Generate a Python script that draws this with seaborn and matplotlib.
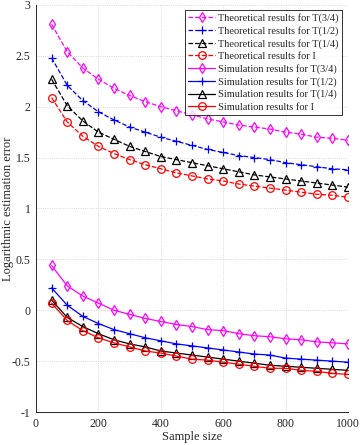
import matplotlib
matplotlib.use("Agg")
import matplotlib.pyplot as plt
import seaborn as sns
import pandas as pd

# ---------------------------------------------------------------
# Data
# ---------------------------------------------------------------
sample_size = [50, 100, 150, 200, 250, 300, 350, 400, 450, 500,
               550, 600, 650, 700, 750, 800, 850, 900, 950, 1000]

theo_t34 = [2.81, 2.54, 2.38, 2.27, 2.18, 2.11, 2.05, 2.00, 1.96, 1.92,
            1.88, 1.85, 1.82, 1.80, 1.78, 1.75, 1.73, 1.70, 1.69, 1.67]
theo_t12 = [2.48, 2.21, 2.06, 1.95, 1.87, 1.80, 1.75, 1.70, 1.66, 1.62,
            1.58, 1.55, 1.52, 1.50, 1.48, 1.45, 1.43, 1.41, 1.39, 1.38]
theo_t14 = [2.27, 2.01, 1.86, 1.75, 1.68, 1.61, 1.56, 1.51, 1.48, 1.45,
            1.42, 1.39, 1.36, 1.33, 1.31, 1.29, 1.27, 1.25, 1.23, 1.21]
theo_i = [2.09, 1.85, 1.71, 1.61, 1.54, 1.48, 1.43, 1.39, 1.35, 1.32,
          1.29, 1.27, 1.24, 1.22, 1.20, 1.18, 1.16, 1.14, 1.13, 1.11]

sim_t34 = [0.44, 0.24, 0.14, 0.07, 0.00, -0.04, -0.08, -0.11, -0.14, -0.16,
           -0.19, -0.20, -0.23, -0.25, -0.26, -0.28, -0.29, -0.31, -0.32, -0.33]
sim_t12 = [0.22, 0.05, -0.06, -0.13, -0.19, -0.23, -0.27, -0.30, -0.33, -0.35,
           -0.37, -0.39, -0.41, -0.43, -0.44, -0.47, -0.48, -0.49, -0.50, -0.51]
sim_t14 = [0.10, -0.07, -0.16, -0.23, -0.29, -0.33, -0.36, -0.40, -0.42, -0.44,
           -0.46, -0.48, -0.50, -0.52, -0.54, -0.55, -0.56, -0.57, -0.58, -0.59]
sim_i = [0.07, -0.10, -0.20, -0.27, -0.32, -0.36, -0.40, -0.42, -0.45, -0.48,
         -0.49, -0.51, -0.53, -0.55, -0.57, -0.57, -0.59, -0.60, -0.62, -0.63]

x_ticks = [0, 200, 400, 600, 800, 1000]
y_ticks = [-1, -0.5, 0, 0.5, 1, 1.5, 2, 2.5, 3]
y_tick_labels = ["-1", "-0.5", "0", "0.5", "1", "1.5", "2", "2.5", "3"]

# ---------------------------------------------------------------
# Style
# ---------------------------------------------------------------
sns.set_theme(style="white")
plt.rcParams["font.family"] = ["Liberation Serif", "DejaVu Serif"]

series = [
    ("Theoretical results for T(3/4)", theo_t34, "#ff00ff", "d", "--"),
    ("Theoretical results for T(1/2)", theo_t12, "#0000ff", "+", "--"),
    ("Theoretical results for T(1/4)", theo_t14, "black", "^", "--"),
    ("Theoretical results for I", theo_i, "#ff0000", "o", "--"),
    ("Simulation results for T(3/4)", sim_t34, "#ff00ff", "d", "-"),
    ("Simulation results for T(1/2)", sim_t12, "#0000ff", "+", "-"),
    ("Simulation results for T(1/4)", sim_t14, "black", "^", "-"),
    ("Simulation results for I", sim_i, "#ff0000", "o", "-"),
]

fig = plt.figure(figsize=(3.62, 4.45), dpi=100)
ax = fig.add_axes([0.0994, 0.074, 0.862, 0.915])

for label, values, color, marker, ls in series:
    df = pd.DataFrame({"n": sample_size, "err": values})
    sns.lineplot(
        data=df, x="n", y="err", ax=ax, color=color, linestyle=ls,
        linewidth=0.9, marker=marker, markersize=5.5 if marker != "+" else 6,
        markerfacecolor="none", markeredgecolor=color, markeredgewidth=0.9,
        label=label,
    )

ax.set_xlim(0, 1000)
ax.set_ylim(-1, 3)
ax.set_xticks(x_ticks)
ax.set_yticks(y_ticks)
ax.set_yticklabels(y_tick_labels)
ax.set_xlabel("Sample size", fontsize=9, labelpad=1)
ax.set_ylabel("Logarithmic estimation error", fontsize=9)
ax.yaxis.set_label_coords(-0.072, 0.5)
ax.tick_params(axis="both", direction="in", length=3, width=0.6,
               labelsize=8.5, colors="#262626", pad=4)
ax.grid(True, linestyle=":", linewidth=0.6, color="#cccccc")

for side in ["top", "right"]:
    ax.spines[side].set_visible(False)
for side in ["left", "bottom"]:
    ax.spines[side].set_color("#262626")
    ax.spines[side].set_linewidth(0.7)

leg = ax.legend(
    loc="upper right", bbox_to_anchor=(0.981, 0.988), borderaxespad=0,
    fontsize=7.5, labelspacing=0.28, handlelength=2.6, handletextpad=0.3,
    borderpad=0.3, frameon=True, fancybox=False,
)
leg.get_frame().set_edgecolor("black")
leg.get_frame().set_linewidth(0.7)

fig.savefig("out.png", dpi=100)
plt.close(fig)
